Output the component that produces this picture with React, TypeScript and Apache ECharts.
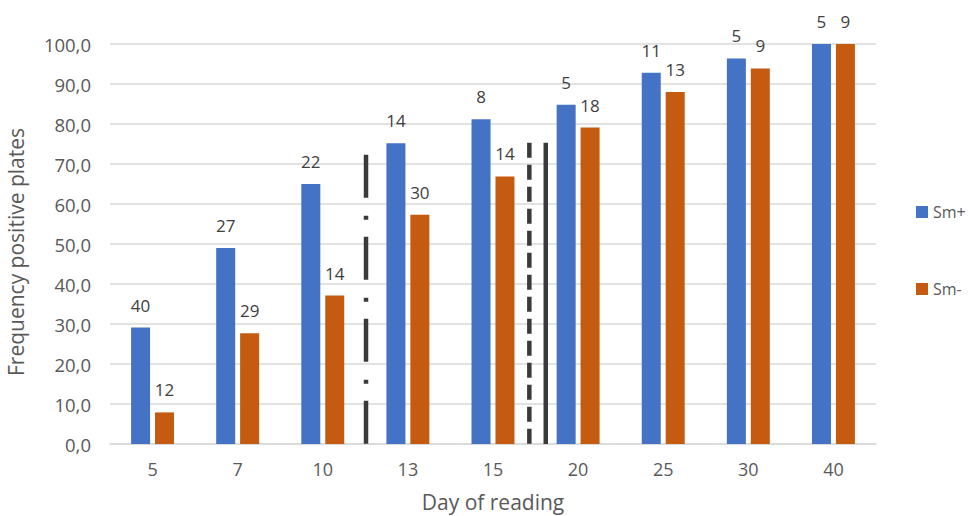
import React, { useEffect, useRef } from "react";
import * as echarts from "echarts";

const categories = ["5", "7", "10", "13", "15", "20", "25", "30", "40"];
const smPlus = [29.1, 49.0, 65.0, 75.2, 81.2, 84.8, 92.8, 96.4, 100.0];
const smMinus = [7.9, 27.7, 37.1, 57.3, 66.9, 79.1, 88.0, 93.9, 100.0];
const smPlusLabels = ["40", "27", "22", "14", "8", "5", "11", "5", "5"];
const smMinusLabels = ["12", "29", "14", "30", "14", "18", "13", "9", "9"];
const yTicks = { min: 0, max: 100, interval: 10 };
// separators: position on category scale (0..9) and height
const separators = [
  { name: "sep1", pos: 3.008, top: 72.3, dash: [43, 18, 4, 17] },
  { name: "sep2", pos: 4.927, top: 75.3, dash: [15, 7] },
  { name: "sep3", pos: 5.12, top: 75.3, dash: "solid" },
];

const FONT = "'Open Sans'";

export default function App() {
  const ref = useRef<HTMLDivElement>(null);
  useEffect(() => {
    if (!ref.current) return;
    const chart = echarts.init(ref.current, undefined, { renderer: "svg" });
    const labelStyle = {
      show: true,
      position: "top",
      distance: 14,
      color: "#404040",
      fontSize: 17,
      fontFamily: FONT,
    };
    chart.setOption({
      animation: false,
      backgroundColor: "#ffffff",
      textStyle: { fontFamily: FONT },
      grid: {
        left: 110,
        right: 94,
        top: 44,
        bottom: 72,
        containLabel: false,
        outerBoundsMode: "none",
      },
      legend: {
        orient: "vertical",
        left: 911,
        top: 199,
        itemWidth: 12,
        itemHeight: 12,
        itemGap: 61,
        icon: "rect",
        textStyle: { fontSize: 16, color: "#595959", fontFamily: FONT },
        data: ["Sm+", "Sm-"],
      },
      xAxis: [
        {
          type: "category",
          data: categories,
          axisTick: { show: false },
          axisLine: { lineStyle: { color: "#d9d9d9", width: 1.5 } },
          axisLabel: { color: "#595959", fontSize: 18, margin: 16, fontFamily: FONT },
          name: "Day of reading",
          nameLocation: "middle",
          nameGap: 47,
          nameTextStyle: { color: "#595959", fontSize: 21, fontFamily: FONT },
        },
        {
          type: "value",
          min: 0,
          max: categories.length,
          show: false,
        },
      ],
      yAxis: {
        type: "value",
        min: yTicks.min,
        max: yTicks.max,
        interval: yTicks.interval,
        axisLine: { show: false },
        axisTick: { show: false },
        splitLine: { lineStyle: { color: "#d9d9d9", width: 1.5 } },
        axisLabel: {
          color: "#595959",
          fontSize: 18.5,
          margin: 19,
          fontFamily: FONT,
          formatter: (v: number) => v.toFixed(1).replace(".", ","),
        },
        name: "Frequency positive plates",
        nameLocation: "middle",
        nameGap: 84,
        nameTextStyle: {
          color: "#595959",
          fontSize: 21,
          fontFamily: FONT,
          padding: [0, 16, 0, 0],
        },
      },
      series: [
        {
          name: "Sm+",
          type: "bar",
          barWidth: 19,
          barGap: "26%",
          itemStyle: { color: "#4472C4" },
          data: smPlus,
          label: {
            ...labelStyle,
            formatter: (p: any) => smPlusLabels[p.dataIndex],
          },
        },
        {
          name: "Sm-",
          type: "bar",
          barWidth: 19,
          barGap: "26%",
          itemStyle: { color: "#C55A11" },
          data: smMinus,
          label: {
            ...labelStyle,
            formatter: (p: any) => smMinusLabels[p.dataIndex],
          },
        },
        ...separators.map((s) => ({
          name: s.name,
          type: "line",
          xAxisIndex: 1,
          yAxisIndex: 0,
          symbol: "none",
          silent: true,
          lineStyle: { color: "#3a3a3a", width: 4.5, type: s.dash, cap: "butt" },
          data: [
            [s.pos, s.top],
            [s.pos, 0],
          ],
        })),
      ],
    });
    return () => chart.dispose();
  }, []);
  return (
    <div
      ref={ref}
      style={{ position: "fixed", left: 0, top: 0, width: 970, height: 516 }}
    />
  );
}
